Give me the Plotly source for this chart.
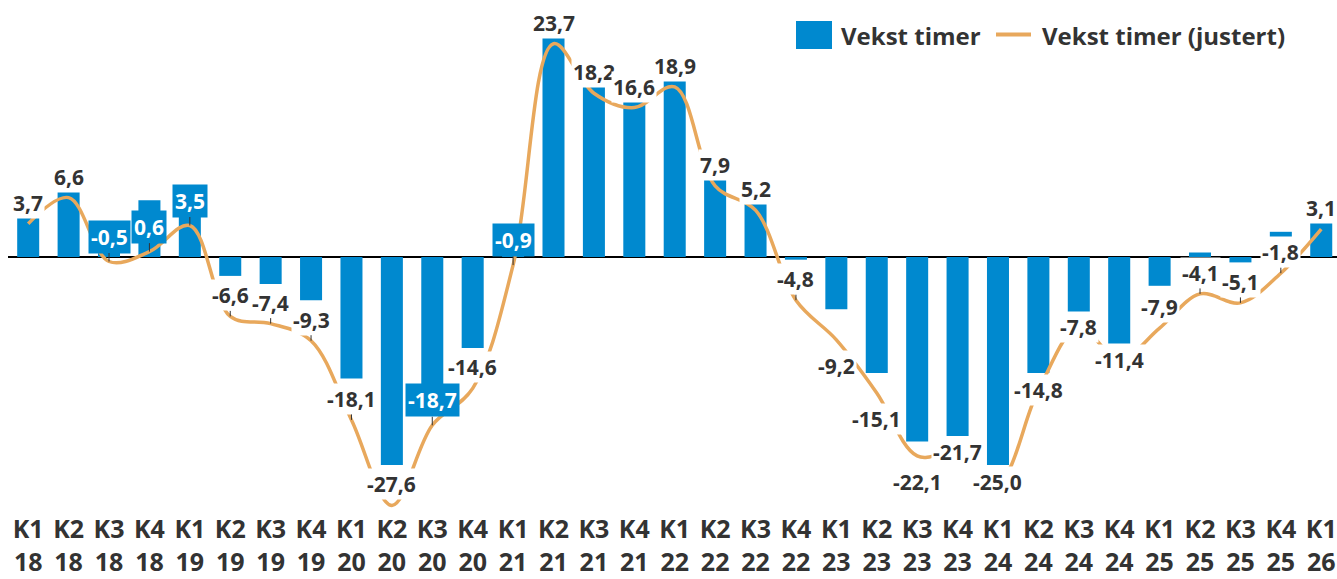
import plotly.graph_objects as go

# ---------------- data ----------------
quarters = ["K1", "K2", "K3", "K4", "K1", "K2", "K3", "K4", "K1", "K2", "K3", "K4",
            "K1", "K2", "K3", "K4", "K1", "K2", "K3", "K4", "K1", "K2", "K3", "K4",
            "K1", "K2", "K3", "K4", "K1", "K2", "K3", "K4", "K1"]
years = ["18", "18", "18", "18", "19", "19", "19", "19", "20", "20", "20", "20",
         "21", "21", "21", "21", "22", "22", "22", "22", "23", "23", "23", "23",
         "24", "24", "24", "24", "25", "25", "25", "25", "26"]

# Vekst timer (bars)
vekst_timer = [4.9, 7.6, 2.0, 6.3, 8.0, -2.1, -3.0, -4.8, -13.5, -23.1, -16.5, -10.1,
               1.5, 25.0, 19.2, 17.6, 19.9, 9.0, 6.3, -0.3, -5.8, -12.9, -20.5, -19.9,
               -23.1, -12.9, -6.1, -9.6, -3.2, 0.5, -0.6, 2.8, 4.0]

# Vekst timer (justert) (line, also shown as data labels)
vekst_justert = [3.7, 6.6, -0.5, 0.6, 3.5, -6.6, -7.4, -9.3, -18.1, -27.6, -18.7, -14.6,
                 -0.9, 23.7, 18.2, 16.6, 18.9, 7.9, 5.2, -4.8, -9.2, -15.1, -22.1, -21.7,
                 -25.0, -14.8, -7.8, -11.4, -7.9, -4.1, -5.1, -1.8, 3.1]

categories = [f"{q} {y}" for q, y in zip(quarters, years)]
tick_text = [f"{q}<br>{y}" for q, y in zip(quarters, years)]

# ---------------- label styling ----------------
# a = above point, b = below point, c = centred on point
label_pos = ["a", "a", "a", "a", "a", "a", "a", "a", "a", "a", "a", "a",
             "a", "a", "a", "a", "a", "a", "a", "a", "b", "b", "b", "c",
             "c", "c", "c", "c", "a", "a", "a", "a", "a"]
blue_label = {2, 3, 4, 10, 12}
leader_label = {2, 3, 4, 5, 6, 7, 8, 10, 12, 19, 29, 30, 31}

BLUE = "#0089CF"
ORANGE = "#E8A85C"
TEXT = "#333333"
FONT = "Open Sans"

fig = go.Figure()
fig.add_trace(go.Bar(
    x=categories, y=vekst_timer, name="Vekst timer",
    marker=dict(color=BLUE, line=dict(width=0)),
    showlegend=False,
))
fig.add_trace(go.Scatter(
    x=categories, y=vekst_justert, name="Vekst timer (justert)",
    mode="lines", line=dict(color=ORANGE, width=3.5, shape="spline", smoothing=1.0),
    showlegend=False,
))


def fmt(v):
    return f"{v:.1f}".replace(".", ",")


annotations = []
for i, (c, v) in enumerate(zip(categories, vekst_justert)):
    blue = i in blue_label
    if label_pos[i] == "a":
        off = 25 if blue else 21
    elif label_pos[i] == "b":
        off = -26
    else:
        off = 0
    ann = dict(
        x=c, y=v, xref="x", yref="y", text=fmt(v),
        font=dict(family=FONT, size=21, color="white" if blue else TEXT, weight="bold"),
        bgcolor=BLUE if blue else "white", borderpad=2 if blue else 1,
    )
    if i in leader_label:
        ann.update(showarrow=True, ax=0, ay=-off, arrowhead=0, arrowwidth=1,
                   arrowcolor=TEXT, standoff=0)
    else:
        ann.update(showarrow=False, yshift=off)
    annotations.append(ann)

# ---------------- manual legend ----------------
W, H = 1337, 579
ML, MR, MT, MB = 8, 0, 0, 67
PW, PH = W - ML - MR, H - MT - MB


def px(xp):
    return (xp - ML) / PW


def py(yp):
    return (H - MB - yp) / PH


shapes = [
    dict(type="rect", xref="paper", yref="paper", x0=px(796), x1=px(832),
         y0=py(49), y1=py(21), fillcolor=BLUE, line=dict(width=0)),
    dict(type="line", xref="paper", yref="paper", x0=px(996), x1=px(1031),
         y0=py(34.5), y1=py(34.5), line=dict(color=ORANGE, width=4)),
]
annotations += [
    dict(x=px(839), y=py(35), xref="paper", yref="paper", xanchor="left",
         yanchor="middle", showarrow=False, text="Vekst timer",
         font=dict(family=FONT, size=24, color=TEXT, weight="bold")),
    dict(x=px(1040), y=py(35), xref="paper", yref="paper", xanchor="left",
         yanchor="middle", showarrow=False, text="Vekst timer (justert)",
         font=dict(family=FONT, size=24, color=TEXT, weight="bold")),
]

ZERO_PX = 257
PX_PER_UNIT = 9.0
y_top = (ZERO_PX - MT) / PX_PER_UNIT
y_bot = -((H - MB) - ZERO_PX) / PX_PER_UNIT

fig.update_layout(
    width=W, height=H,
    margin=dict(l=ML, r=MR, t=MT, b=MB, pad=0, autoexpand=False),
    plot_bgcolor="white", paper_bgcolor="white",
    bargap=0.455,
    font=dict(family=FONT, color=TEXT),
    xaxis=dict(
        type="category", categoryorder="array", categoryarray=categories,
        tickvals=categories, ticktext=tick_text,
        tickfont=dict(family=FONT, size=25, color=TEXT, weight="bold"),
        ticklabelstandoff=0, automargin=False,
        range=[-0.5, 32.39], showgrid=False, showline=False, ticks="",
        zeroline=False, fixedrange=True,
    ),
    yaxis=dict(
        range=[y_bot, y_top], showgrid=False, showticklabels=False, ticks="",
        showline=False, zeroline=True, zerolinecolor="black", zerolinewidth=2,
        fixedrange=True, automargin=False,
    ),
    annotations=annotations,
    shapes=shapes,
    showlegend=False,
)

fig.write_html("out.html", config={"displayModeBar": False},
               post_script="document.body.style.margin='0';")
